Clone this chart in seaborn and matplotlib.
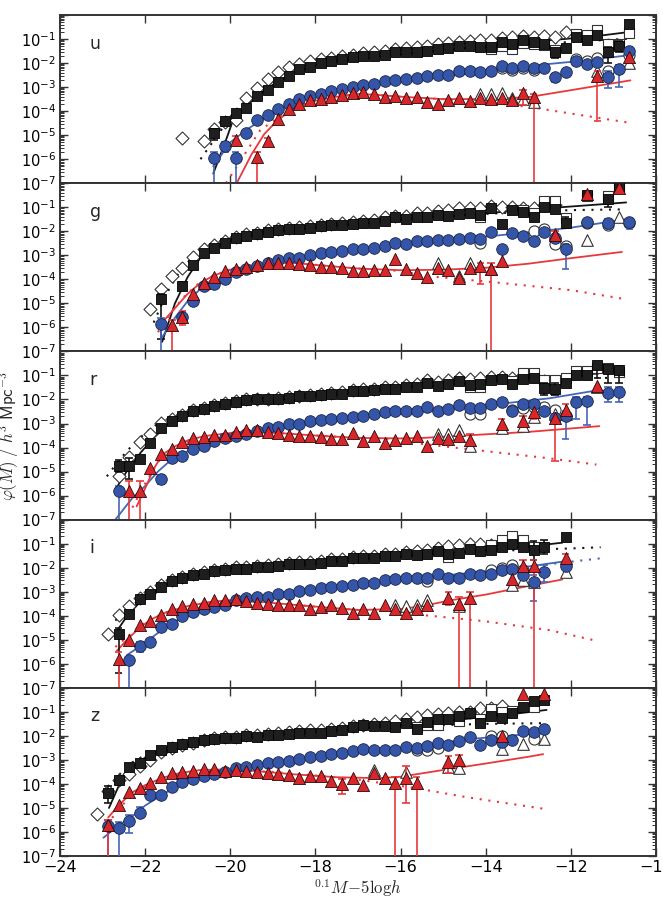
import numpy as np
import matplotlib
matplotlib.use("Agg")
import matplotlib.pyplot as plt
import seaborn as sns
from matplotlib.ticker import FixedLocator, LogLocator, NullFormatter

nan = np.nan
bands = ["u", "g", "r", "i", "z"]
step = 0.25  # bin width in magnitudes

# ---------------- u band (log10 phi), bins start at *_m0 ----------------
u_m0 = -20.375
u_sq = [-4.90, -4.42, -4.07, -3.86, -3.36, -3.10, -2.78, -2.54, -2.26, -2.15,
        -2.00, -1.92, -1.83, -1.74, -1.70, -1.70, -1.65, -1.55, -1.55, -1.52,
        -1.48, -1.41, -1.38, -1.30, -1.30, -1.34, -1.34, -1.13, -1.20, -1.06,
        -1.13, -1.20, -1.55, -1.38, -0.92, -1.02, -0.85, -1.52, -1.27, -0.36]
u_ci = [-5.96, -5.47, -5.96, -4.91, -4.38, -4.17, -3.90, -3.72, -3.48, -3.37,
        -3.27, -3.15, -3.07, -2.99, -2.90, -2.87, -2.76, -2.69, -2.65, -2.62,
        -2.53, -2.49, -2.49, -2.35, -2.32, -2.38, -2.32, -2.14, -2.21, -2.14,
        -2.21, -2.21, -2.59, -2.39, -1.93, -2.04, -1.96, -2.56, -2.24, -1.48]
u_tr = [nan, nan, -5.19, nan, -5.89, -5.26, -4.31, -3.93, -3.72, -3.55,
        -3.48, -3.40, -3.33, -3.24, -3.21, -3.27, -3.41, -3.38, -3.45, -3.41,
        -3.62, -3.69, -3.52, -3.45, -3.59, -3.45, -3.49, -3.45, -3.55, -3.24,
        -3.41, nan, nan, nan, nan, nan, -2.53, nan, nan, -1.75]
u_di_m0 = -21.125
u_di = [-5.12, nan, -5.26, -4.75, -4.45, -4.38, -3.45, -3.05, -2.65, -2.38,
        -2.17, -2.05, -1.92, -1.85, -1.80, -1.72, -1.65, -1.58, -1.55, -1.50,
        -1.42, -1.38, -1.34, -1.28, -1.22, -1.18, -1.12, -1.08, -1.05, -1.05,
        -0.95, -0.92, -0.88, -0.92, -0.88, -0.90, -0.72]
u_o_m0 = -14.125
u_osq = [nan, -1.40, -1.30, -1.41, -1.15, -1.20, -1.25, -1.45, nan, -0.78, -0.85, -0.64, -1.20, -1.20, -0.75]
u_oci = [nan, nan, -2.20, -2.28, -2.20, -2.30, nan, nan, nan, -1.82, -1.90, -1.80, -2.35, nan, -1.65]
u_otr = [-3.30, -3.30, -3.25, -3.45, -3.50, -3.62, nan, nan, nan, nan, nan, -2.35, nan, nan, -2.00]
u_err_sq = [(-20.375, -5.2, -4.75), (-12.375, -1.8, -1.45), (-11.125, -2.0, -1.35), (-10.875, -1.55, -1.1)]
u_err_ci = [(-20.375, -9, -5.7), (-20.125, -5.7, -5.3), (-19.875, -9, -5.7), (-12.375, -2.8, -2.45),
            (-11.125, -3.05, -2.35), (-10.875, -3.0, -2.1), (-10.625, -1.8, -1.35)]
u_err_tr = [(-19.875, -5.35, -5.05), (-19.375, -9, -5.7), (-19.125, -5.4, -5.1), (-13.125, -3.75, -3.1),
            (-12.875, -9, -3.3), (-11.375, -4.4, -2.35)]
u_blk_m = [-20.4, -20.1, -19.9, -19.6, -19.3, -19.0, -18.6, -18.2, -17.8, -17.2, -16.5, -15.5, -14.5, -13.5, -12.5, -11.5, -10.6]
u_blk_y = [-6.6, -5.2, -4.2, -3.75, -3.3, -2.9, -2.5, -2.2, -2.0, -1.85, -1.72, -1.55, -1.38, -1.22, -1.05, -0.9, -0.7]
u_blkd_m = [-20.7, -20.3, -19.9, -19.5, -19.1, -18.6, -18.0, -17.0, -16.0, -15.0, -14.0, -13.0, -12.0, -11.0, -10.6]
u_blkd_y = [-6.0, -5.0, -4.0, -3.35, -2.85, -2.45, -2.12, -1.85, -1.65, -1.48, -1.35, -1.22, -1.12, -1.02, -0.98]
u_blu_m = [-20.4, -20.0, -19.6, -19.2, -18.8, -18.4, -18.0, -17.5, -17.0, -16.0, -15.0, -14.0, -13.0, -12.0, -10.6]
u_blu_y = [-6.3, -5.3, -4.75, -4.3, -3.9, -3.55, -3.35, -3.15, -3.0, -2.75, -2.55, -2.35, -2.12, -1.95, -1.67]
u_red_m = [-19.85, -19.5, -19.2, -18.9, -18.6, -18.3, -18.0, -17.5, -17.0, -16.5, -16.0, -15.0, -14.0, -13.0, -10.6]
u_red_y = [-7.0, -5.8, -4.95, -4.4, -4.0, -3.75, -3.57, -3.4, -3.28, -3.33, -3.4, -3.5, -3.5, -3.42, -2.72]
u_redd_m = [-20.1, -19.7, -19.3, -18.9, -18.5, -18.0, -17.0, -16.0, -15.0, -14.0, -13.0, -12.0, -10.6]
u_redd_y = [-7.0, -5.9, -4.8, -4.3, -3.85, -3.55, -3.28, -3.4, -3.5, -3.62, -3.82, -4.1, -4.49]

# ---------------- g band ----------------
g_m0 = -21.625
g_sq = [-4.83, nan, -4.28, -3.42, -2.92, -2.68, -2.47, -2.30, -2.20, -2.12,
        -2.01, -1.95, -1.92, -1.89, -1.85, -1.80, -1.75, -1.75, -1.68, -1.65,
        -1.65, -1.57, -1.39, -1.50, -1.39, -1.39, -1.33, -1.36, -1.29, -1.26,
        -1.33, -1.05, -1.71, -1.10, -1.19, -1.40, -1.01, -1.08, -1.64, nan,
        -0.50, nan, -0.67, -0.14, nan]
g_ci = [-5.87, nan, -5.57, -4.90, -4.28, -4.18, -3.97, -3.70, -3.58, -3.45,
        -3.30, -3.20, -3.12, -3.10, -3.00, -2.92, -2.85, -2.82, -2.72, -2.72,
        -2.68, -2.63, -2.50, -2.54, -2.42, -2.42, -2.36, -2.36, -2.31, -2.28,
        -2.31, -2.03, -2.72, -2.08, -2.20, -2.40, -2.03, -2.26, -2.75, nan,
        -1.61, nan, -1.67, nan, -1.61]
g_tr = [nan, -5.92, -5.57, -4.62, -4.17, -3.89, -3.65, -3.55, -3.47, -3.42,
        -3.30, -3.30, -3.30, -3.38, -3.42, -3.47, -3.47, -3.52, -3.65, -3.65,
        -3.61, -3.61, -3.17, -3.58, -3.75, -3.89, -3.51, -3.61, -3.93, -3.51,
        -3.45, -3.58, -3.24, nan, nan, nan, nan, -2.17, nan, nan,
        -0.46, nan, nan, -0.18, nan]
g_di_m0 = -21.875
g_di = [-5.22, -4.42, -3.86, -3.51, -3.05, -2.75, -2.58, -2.40, -2.22, -2.12,
        -2.06, -1.96, -1.90, -1.86, -1.82, -1.78, -1.73, -1.68, -1.65, -1.60,
        -1.56, -1.52, -1.42, -1.35, -1.35, -1.25, -1.22, -1.15, -1.12, -1.05,
        -1.02, -1.02, -0.95, -0.98, -1.00, -1.05, -1.05, -0.92, -0.92]
g_o_m0 = -15.125
g_osq = [nan, nan, nan, nan, -1.39, nan, nan, nan, -1.10, -1.22, -0.74, -0.74, -1.43, nan, -0.55, nan, -0.55, -0.20, nan]
g_oci = [nan, nan, nan, nan, -2.50, nan, nan, nan, nan, -2.00, -1.92, -2.55, -2.62, nan, -1.65, nan, -1.72, nan, -1.65]
g_otr = [-3.30, nan, -3.85, -3.30, nan, -3.55, nan, nan, nan, nan, nan, -2.10, nan, nan, -2.36, nan, nan, -1.39, nan]
g_err_sq = [(-21.625, -6.5, -4.6), (-21.125, -4.45, -4.1), (-12.125, -1.85, -1.4), (-11.125, -1.0, -0.6)]
g_err_ci = [(-21.625, -9, -5.6), (-21.125, -5.8, -5.35), (-12.125, -3.55, -2.55), (-11.125, -1.9, -1.5),
            (-10.625, -1.9, -1.45)]
g_err_tr = [(-21.375, -9, -5.7), (-21.125, -5.9, -5.3), (-14.125, -4.2, -3.3), (-13.875, -9, -3.3),
            (-12.375, -2.4, -2.0)]
g_blk_m = [-21.6, -21.3, -21.0, -20.7, -20.4, -20.0, -19.5, -19.0, -18.0, -17.0, -16.0, -15.0, -14.0, -13.0, -12.0, -10.7]
g_blk_y = [-6.6, -5.0, -3.9, -3.1, -2.7, -2.38, -2.15, -2.02, -1.85, -1.68, -1.52, -1.38, -1.25, -1.1, -0.97, -0.8]
g_blkd_m = [-21.8, -21.5, -21.2, -20.9, -20.6, -20.2, -19.5, -19.0, -18.0, -17.0, -16.0, -15.0, -14.0, -13.0, -12.0, -10.8]
g_blkd_y = [-5.8, -4.6, -3.7, -3.1, -2.75, -2.45, -2.17, -2.04, -1.86, -1.7, -1.55, -1.4, -1.28, -1.18, -1.12, -1.09]
g_blu_m = [-21.6, -21.3, -21.0, -20.7, -20.4, -20.0, -19.5, -19.0, -18.0, -17.0, -16.0, -15.0, -14.0, -13.0, -12.0, -10.7]
g_blu_y = [-6.4, -5.6, -4.9, -4.4, -4.1, -3.8, -3.5, -3.28, -3.02, -2.78, -2.58, -2.4, -2.22, -2.05, -1.85, -1.5]
g_red_m = [-21.55, -21.3, -21.0, -20.7, -20.4, -20.0, -19.5, -19.0, -18.5, -18.0, -17.0, -16.0, -15.0, -14.0, -13.0, -12.0, -10.8]
g_red_y = [-5.7, -5.2, -4.6, -4.15, -3.85, -3.6, -3.42, -3.32, -3.32, -3.4, -3.55, -3.62, -3.6, -3.52, -3.35, -3.12, -2.86]
g_redd_m = [-21.7, -21.4, -21.1, -20.8, -20.5, -20.0, -19.0, -18.0, -17.0, -16.0, -15.4, -13.7, -12.0, -10.8]
g_redd_y = [-6.2, -5.4, -4.75, -4.25, -3.9, -3.6, -3.32, -3.4, -3.55, -3.65, -3.86, -4.14, -4.45, -4.8]

# ---------------- r band ----------------
r_m0 = -22.625
r_sq = [-4.75, -4.78, -4.47, -3.83, -3.18, -2.90, -2.70, -2.49, -2.39, -2.28,
        -2.18, -2.10, -2.03, -2.00, -1.99, -1.98, -1.95, -1.86, -1.84, -1.82,
        -1.78, -1.76, -1.63, -1.65, -1.60, -1.58, -1.55, -1.47, -1.47, -1.30,
        -1.45, -1.35, -1.24, -1.38, -1.35, -1.20, -1.14, -1.35, -1.14, -1.10,
        -1.51, -1.55, -1.30, -1.00, -1.00, -0.58, -0.72, -0.78]
r_ci = [-5.82, nan, nan, nan, -5.30, -4.43, -4.36, -4.08, -3.92, -3.74,
        -3.60, -3.50, -3.42, -3.32, -3.18, -3.14, -3.04, -3.00, -2.90, -2.86,
        -2.83, -2.76, -2.72, -2.70, -2.62, -2.53, -2.49, -2.47, -2.47, -2.32,
        -2.47, -2.40, -2.21, -2.35, -2.35, -2.18, -2.11, -2.49, -2.17, -2.17,
        -2.49, -2.79, -2.70, -2.11, -2.07, nan, -1.72, -1.70]
r_tr = [nan, -5.82, -5.82, -4.85, -4.25, -4.05, -3.78, -3.60, -3.55, -3.46,
        -3.46, -3.36, -3.28, -3.28, -3.36, -3.39, -3.46, -3.50, -3.50, -3.55,
        -3.64, -3.64, -3.39, -3.74, -3.53, -3.80, -3.67, -3.60, -3.50, -3.92,
        -3.60, -3.64, -3.50, -3.67, nan, nan, -3.00, nan, -2.90, -2.53,
        nan, -2.76, -2.42, nan, nan, -1.42, nan, nan]
r_di_m0 = -22.625
r_di = [-5.17, -4.39, -3.78, -3.45, -2.98, -2.80, -2.65, -2.45, -2.35, -2.25,
        -2.15, -2.06, -2.00, -1.97, -1.96, -1.94, -1.90, -1.84, -1.80, -1.77,
        -1.73, -1.70, -1.60, -1.58, -1.55, -1.50, -1.46, -1.40, -1.36, -1.20,
        -1.28, -1.18, -1.10, -1.15, -1.10, -1.05, -1.08, -1.10, -1.00, -1.02,
        -1.25]
r_o_m0 = -15.125
r_osq = [nan, nan, nan, -1.50, -1.50, nan, nan, -1.25, -0.90, -0.90, -1.20, -1.20, -1.10, -0.80, -0.82, -0.70, -0.68, -0.85]
r_oci = [nan, nan, nan, -2.60, -2.60, nan, nan, -2.42, -2.35, -2.30, -2.30, -2.42, nan, nan, nan, nan, nan, nan]
r_otr = [-3.45, -3.45, -3.25, -3.95, nan, nan, -3.20, nan, -3.10, -2.75, nan, -2.60, -2.60, nan, nan, -1.50, nan, nan]
r_err_sq = [(-22.625, -5.0, -4.5), (-22.375, -5.3, -4.45), (-12.625, -1.8, -1.3), (-12.375, -1.8, -1.3),
            (-11.375, -1.1, -0.45), (-11.125, -1.3, -0.6), (-10.875, -1.3, -0.6)]
r_err_ci = [(-22.625, -9, -5.6), (-21.625, -5.5, -5.15), (-12.125, -3.65, -2.5), (-11.875, -2.8, -1.9),
            (-11.625, -3.05, -1.9), (-11.125, -2.1, -1.5), (-10.875, -2.1, -1.5)]
r_err_tr = [(-22.375, -9, -5.4), (-22.125, -9, -5.4), (-14.375, -3.85, -3.45), (-13.625, -3.2, -2.8),
            (-13.125, -3.1, -2.7), (-12.875, -2.8, -2.35), (-12.375, -4.55, -2.6), (-12.125, -2.7, -2.2)]
r_blk_m = [-22.7, -22.4, -22.1, -21.8, -21.5, -21.2, -20.8, -20.4, -20.0, -19.5, -19.0, -18.0, -17.0, -16.0, -15.0, -14.0, -13.0, -12.0, -11.35]
r_blk_y = [-5.75, -4.9, -4.2, -3.6, -3.1, -2.75, -2.48, -2.3, -2.15, -2.05, -1.98, -1.85, -1.7, -1.55, -1.4, -1.27, -1.13, -1.0, -0.92]
r_blkd_m = [-22.9, -22.6, -22.3, -22.0, -21.7, -21.3, -20.8, -20.0, -19.0, -18.0, -17.0, -16.0, -15.0, -14.0, -13.0, -12.0, -11.0]
r_blkd_y = [-5.2, -4.5, -3.9, -3.4, -3.0, -2.7, -2.45, -2.15, -1.99, -1.86, -1.72, -1.58, -1.44, -1.32, -1.2, -1.12, -1.1]
r_blu_m = [-22.7, -22.3, -22.0, -21.7, -21.35, -21.0, -20.6, -20.2, -19.8, -19.2, -18.5, -17.5, -16.5, -15.5, -14.5, -13.5, -12.5, -11.35]
r_blu_y = [-7.0, -6.1, -5.6, -5.0, -4.45, -4.15, -3.92, -3.72, -3.55, -3.35, -3.12, -2.88, -2.68, -2.5, -2.33, -2.15, -1.95, -1.61]
r_red_m = [-22.2, -22.0, -21.8, -21.6, -21.3, -21.0, -20.6, -20.0, -19.5, -19.0, -18.0, -17.0, -16.0, -15.47, -14.0, -13.0, -11.33]
r_red_y = [-6.45, -5.7, -4.9, -4.3, -3.95, -3.7, -3.52, -3.4, -3.33, -3.38, -3.5, -3.6, -3.62, -3.6, -3.45, -3.35, -3.11]
r_redd_m = [-22.3, -22.0, -21.7, -21.4, -21.0, -20.5, -20.0, -19.0, -18.0, -17.0, -16.0, -15.5, -14.0, -12.5, -11.4]
r_redd_y = [-6.5, -5.5, -4.6, -4.1, -3.75, -3.5, -3.42, -3.38, -3.5, -3.6, -3.65, -3.85, -4.15, -4.45, -4.71]

# ---------------- i band ----------------
i_m0 = -22.625
i_sq = [-4.75, -3.92, -3.32, -3.11, -2.80, -2.55, -2.42, -2.30, -2.25, -2.14,
        -2.10, -2.04, -2.07, -1.97, -1.97, -1.93, -1.86, -1.86, -1.86, -1.79,
        -1.72, -1.72, -1.61, -1.58, -1.61, -1.51, -1.51, -1.45, -1.47, -1.42,
        -1.30, -1.42, -1.38, -1.24, -1.30, -1.28, -1.14, -1.00, -1.14, -1.26,
        -1.14, nan, -0.72]
i_ci = [nan, -5.86, -5.26, -5.08, -4.47, -4.33, -4.01, -3.83, -3.74, -3.64,
        -3.55, -3.36, -3.28, -3.22, -3.22, -3.11, -3.08, -2.97, -2.91, -2.83,
        -2.80, -2.76, -2.70, -2.62, -2.62, -2.53, -2.49, -2.45, -2.45, -2.42,
        -2.28, -2.45, -2.42, -2.25, -2.31, -2.25, -2.11, -2.07, -2.31, -2.58,
        -2.17, nan, -1.93]
i_tr = [-5.80, -5.03, -4.39, -4.20, -3.95, -3.70, -3.60, -3.53, -3.46, -3.36,
        -3.36, -3.32, -3.40, -3.46, -3.50, -3.55, -3.55, -3.55, -3.74, -3.64,
        -3.55, -3.69, -3.87, -3.74, -3.87, -3.55, -3.74, -3.87, -3.74, -3.55,
        nan, -3.28, -3.50, -3.25, nan, nan, nan, -2.49, -1.93, -1.93,
        nan, nan, -1.61]
i_di_m0 = -22.875
i_di = [-4.78, -3.95, -3.60, -3.25, -3.02, -2.74, -2.52, -2.40, -2.27, -2.20,
        -2.10, -2.04, -1.99, -1.98, -1.92, -1.90, -1.85, -1.80, -1.78, -1.76,
        -1.71, -1.65, -1.62, -1.56, -1.52, -1.50, -1.45, -1.42, -1.35, -1.30,
        -1.25, -1.20, -1.10, -1.05, -1.02, -1.00, -1.05, -0.98, -0.85, -0.92]
i_o_m0 = -16.375
i_osq = [nan, nan, nan, nan, nan, nan, -1.55, nan, nan, nan, -1.05, -0.85, -0.70, -0.85, -1.12, nan, nan, nan]
i_oci = [nan, nan, nan, nan, -2.55, nan, nan, nan, nan, nan, -2.10, -2.00, -1.90, -2.10, nan, nan, nan, nan]
i_otr = [nan, -3.55, -3.60, -3.55, -3.35, nan, nan, -3.60, nan, nan, nan, nan, -2.70, -2.50, -2.60, nan, nan, -2.20]
i_err_sq = [(-22.625, -6.4, -4.5), (-12.875, -1.7, -0.9), (-12.625, -1.45, -0.85)]
i_err_ci = [(-22.375, -9, -5.7), (-22.125, -5.5, -5.1), (-12.875, -3.4, -2.3), (-12.625, -2.6, -1.9)]
i_err_tr = [(-22.625, -9, -5.5), (-14.875, -3.55, -3.0), (-14.625, -9, -3.2), (-14.375, -9, -3.0),
            (-13.125, -2.3, -1.7), (-12.875, -9, -1.7), (-12.125, -1.85, -1.45)]
i_blk_m = [-22.65, -22.4, -22.1, -21.8, -21.5, -21.0, -20.5, -20.0, -19.0, -18.0, -17.0, -16.0, -15.0, -14.0, -13.0, -12.2]
i_blk_y = [-4.6, -3.95, -3.4, -3.0, -2.7, -2.4, -2.2, -2.07, -1.95, -1.83, -1.68, -1.53, -1.4, -1.28, -1.12, -0.96]
i_blkd_m = [-22.7, -22.4, -22.1, -21.8, -21.4, -21.0, -20.5, -20.0, -19.0, -18.0, -17.0, -16.0, -15.0, -14.0, -13.0, -12.0, -11.3]
i_blkd_y = [-4.2, -3.7, -3.3, -2.95, -2.65, -2.42, -2.22, -2.08, -1.96, -1.84, -1.7, -1.56, -1.43, -1.32, -1.25, -1.2, -1.15]
i_blu_m = [-22.43, -22.1, -21.8, -21.5, -21.2, -20.8, -20.4, -20.0, -19.5, -19.0, -18.0, -17.0, -16.0, -15.0, -14.0, -13.0, -12.2]
i_blu_y = [-5.64, -5.25, -4.85, -4.45, -4.15, -3.9, -3.7, -3.5, -3.33, -3.18, -2.93, -2.7, -2.5, -2.33, -2.15, -1.95, -1.75]
i_blud_m = [-12.8, -12.2, -11.3]
i_blud_y = [-1.92, -1.79, -1.61]
i_red_m = [-22.67, -22.4, -22.1, -21.8, -21.5, -21.0, -20.5, -20.0, -19.5, -19.0, -18.0, -17.0, -16.0, -15.5, -14.8, -14.0, -13.3, -12.2]
i_red_y = [-5.47, -4.95, -4.45, -4.1, -3.85, -3.6, -3.43, -3.35, -3.38, -3.47, -3.62, -3.76, -3.72, -3.6, -3.35, -3.12, -2.87, -2.49]
i_redd_m = [-22.7, -22.4, -22.1, -21.8, -21.4, -21.0, -20.0, -19.0, -18.0, -17.0, -16.2, -15.6, -14.06, -12.5, -11.43]
i_redd_y = [-5.3, -4.85, -4.4, -4.08, -3.8, -3.6, -3.36, -3.47, -3.62, -3.76, -3.8, -3.95, -4.22, -4.6, -5.03]

# ---------------- z band ----------------
z_m0 = -22.875
z_sq = [-4.36, -3.83, -3.28, -3.11, -2.79, -2.60, -2.45, -2.35, -2.25, -2.17,
        -2.11, -2.10, -2.10, -2.00, -2.03, -1.97, -1.97, -1.93, -1.90, -1.86,
        -1.86, -1.79, -1.76, -1.65, -1.55, -1.58, -1.58, -1.61, -1.45, -1.70,
        -1.42, -1.31, -1.31, -1.17, -1.03, -1.45, -1.17, -1.27, -1.03, -0.78,
        -0.54, -0.50]
z_ci = [-5.75, -5.82, -5.54, -5.20, -4.48, -4.48, -4.11, -3.92, -3.80, -3.67,
        -3.60, -3.50, -3.32, -3.28, -3.22, -3.14, -3.08, -3.04, -2.95, -2.86,
        -2.83, -2.76, -2.72, -2.62, -2.56, -2.58, -2.58, -2.58, -2.45, -2.49,
        -2.42, -2.28, -2.40, -2.21, -2.03, -2.40, -2.17, -2.25, -2.17, -1.79,
        -1.83, -1.72]
z_tr = [-5.72, -4.89, -4.33, -4.15, -3.95, -3.70, -3.56, -3.50, -3.46, -3.36,
        -3.36, -3.46, -3.42, -3.46, -3.50, -3.55, -3.60, -3.64, -3.74, -3.69,
        -3.69, -3.87, -4.01, -3.74, -4.06, -3.56, -3.74, -3.97, -3.74, -3.97,
        nan, nan, -3.08, -3.00, nan, nan, nan, -2.00, nan, -0.27,
        nan, -0.27]
z_di_m0 = -23.125
z_di = [-5.26, -4.30, -3.85, -3.60, -3.25, -3.00, -2.68, -2.50, -2.37, -2.28,
        -2.18, -2.10, -2.06, -2.03, -1.97, -1.95, -1.91, -1.88, -1.85, -1.81,
        -1.77, -1.75, -1.70, -1.66, -1.58, -1.53, -1.50, -1.45, -1.38, -1.30,
        -1.20, -1.15, -1.10, -1.05, -1.00, -1.00, -0.85, -0.85, -0.75]
z_o_m0 = -16.875
z_osq = [nan, nan, nan, nan, nan, -1.62, -1.55, -1.55, nan, -1.40, nan, -1.30, -0.90, -1.00, -0.95, nan, -0.78, nan]
z_oci = [nan, nan, nan, nan, nan, -2.60, -2.58, -2.50, nan, nan, nan, nan, -2.00, -2.00, nan, nan, -2.15, nan]
z_otr = [nan, -3.40, nan, nan, -3.50, nan, nan, nan, -3.30, -3.35, nan, nan, nan, -2.55, nan, -2.35, nan, -2.15]
z_err_sq = [(-22.875, -4.8, -4.1), (-14.125, -1.65, -1.3)]
z_err_ci = [(-22.875, -9, -5.5), (-22.625, -9, -5.6), (-22.375, -6.03, -5.3), (-22.125, -5.35, -4.95),
            (-14.125, -2.6, -2.2), (-13.625, -2.45, -2.1), (-12.625, -1.9, -1.55)]
z_err_tr = [(-22.875, -9, -5.5), (-17.375, -4.4, -3.8), (-16.125, -9, -3.7), (-15.875, -4.8, -3.25),
            (-15.625, -9, -3.7), (-14.875, -3.55, -2.85), (-14.625, -3.25, -2.8)]
z_blk_m = [-22.85, -22.6, -22.3, -22.0, -21.6, -21.2, -20.8, -20.3, -19.5, -18.5, -17.5, -16.5, -15.5, -14.5, -13.5, -12.57]
z_blk_y = [-5.0, -4.0, -3.3, -2.9, -2.6, -2.38, -2.22, -2.12, -2.02, -1.9, -1.77, -1.62, -1.47, -1.3, -1.12, -0.92]
z_blkd_m = [-22.85, -22.6, -22.3, -22.0, -21.6, -21.0, -20.0, -19.0, -18.0, -17.0, -16.0, -15.0, -14.0, -13.0, -12.65]
z_blkd_y = [-4.2, -3.6, -3.1, -2.8, -2.55, -2.32, -2.12, -2.0, -1.88, -1.75, -1.62, -1.55, -1.5, -1.48, -1.47]
z_blu_m = [-22.98, -22.6, -22.3, -22.0, -21.6, -21.2, -20.8, -20.3, -19.5, -18.5, -17.5, -16.5, -15.5, -14.5, -13.5, -12.57]
z_blu_y = [-6.24, -5.7, -5.35, -4.9, -4.45, -4.05, -3.82, -3.6, -3.3, -3.0, -2.77, -2.6, -2.45, -2.15, -2.0, -1.86]
z_red_m = [-22.87, -22.6, -22.3, -22.0, -21.6, -21.2, -20.7, -20.2, -19.5, -18.5, -17.5, -16.5, -16.0, -15.0, -14.0, -13.0, -12.65]
z_red_y = [-5.4, -4.85, -4.35, -4.05, -3.75, -3.55, -3.42, -3.4, -3.45, -3.6, -3.72, -3.76, -3.7, -3.42, -3.15, -2.87, -2.76]
z_redd_m = [-22.9, -22.6, -22.3, -22.0, -21.6, -21.0, -20.0, -19.0, -18.0, -17.0, -15.7, -14.45, -12.65]
z_redd_y = [-5.7, -5.0, -4.45, -4.1, -3.78, -3.52, -3.42, -3.5, -3.65, -3.82, -4.16, -4.55, -5.03]

# collect the named arrays per band for the drawing loop
g_ = globals()
panels = {b: {k: g_[f"{b}_{k}"] for k in
              ["m0", "sq", "ci", "tr", "di_m0", "di", "o_m0", "osq", "oci", "otr",
               "err_sq", "err_ci", "err_tr", "blk_m", "blk_y", "blkd_m", "blkd_y",
               "blu_m", "blu_y", "red_m", "red_y", "redd_m", "redd_y"]}
          for b in bands}
panels["i"]["blud_m"] = i_blud_m
panels["i"]["blud_y"] = i_blud_y

BLACK = "#141414"
BLUE = "#3556a8"
RED = "#d8262b"
LBLUE = "#4566b8"
LRED = "#e8383c"

sns.set_style("ticks")
plt.rcParams.update({
    "font.family": ["DejaVu Sans"],
    "mathtext.fontset": "cm",
    "axes.edgecolor": "#333333",
    "axes.linewidth": 1.4,
    "xtick.color": "#333333",
    "ytick.color": "#333333",
    "xtick.labelcolor": "black",
    "ytick.labelcolor": "black",
})

fig, axes = plt.subplots(5, 1, figsize=(6.63, 8.99), dpi=100, sharex=True)
fig.subplots_adjust(left=0.0905, right=0.9894, top=0.9833, bottom=0.0478, hspace=0)


def bin_x(m0, vals):
    return m0 + step * np.arange(len(vals))


def scat(ax, x, logy, **kw):
    y = np.power(10.0, np.asarray(logy, dtype=float))
    ok = np.isfinite(y)
    sns.scatterplot(x=np.asarray(x)[ok], y=y[ok], ax=ax, legend=False, **kw)


def line(ax, m, logy, color, dotted=False):
    sns.lineplot(x=m, y=np.power(10.0, np.asarray(logy)), ax=ax, color=color,
                 lw=1.3 if not dotted else 1.5, sort=False, estimator=None,
                 linestyle=(0, (1, 3.2)) if dotted else "-", zorder=1.5)


def errs(ax, items, color):
    for m, lo, hi in items:
        ax.vlines(m, 10.0 ** lo, 10.0 ** hi, color=color, lw=1.2, zorder=2.6)
        for v in (lo, hi):
            if v > -8:
                ax.hlines(10.0 ** v, m - 0.09, m + 0.09, color=color, lw=1.2, zorder=2.6)


for ax, b in zip(axes, bands):
    p = panels[b]
    ax.set_yscale("log")

    # model curves
    line(ax, p["blk_m"], p["blk_y"], BLACK)
    line(ax, p["blkd_m"], p["blkd_y"], BLACK, dotted=True)
    line(ax, p["blu_m"], p["blu_y"], LBLUE)
    if "blud_m" in p:
        line(ax, p["blud_m"], p["blud_y"], LBLUE, dotted=True)
    line(ax, p["red_m"], p["red_y"], LRED)
    line(ax, p["redd_m"], p["redd_y"], LRED, dotted=True)

    # open symbols
    open_kw = dict(color="white", edgecolor="#333333", linewidth=0.8, zorder=2)
    scat(ax, bin_x(p["di_m0"], p["di"]), p["di"], marker="D", s=44, **open_kw)
    scat(ax, bin_x(p["o_m0"], p["osq"]), p["osq"], marker="s", s=58, **open_kw)
    scat(ax, bin_x(p["o_m0"], p["oci"]), p["oci"], marker="o", s=64, **open_kw)
    scat(ax, bin_x(p["o_m0"], p["otr"]), p["otr"], marker="^", s=70, **open_kw)

    # error bars
    errs(ax, p["err_sq"], BLACK)
    errs(ax, p["err_ci"], LBLUE)
    errs(ax, p["err_tr"], LRED)

    # filled symbols
    xb = bin_x(p["m0"], p["sq"])
    scat(ax, xb, p["sq"], marker="s", s=58, color="#1e1e1e", edgecolor="black", linewidth=0.6, zorder=3)
    scat(ax, xb, p["ci"], marker="o", s=70, color=BLUE, edgecolor="#1a2448", linewidth=0.6, zorder=3.1)
    scat(ax, xb, p["tr"], marker="^", s=76, color=RED, edgecolor="#2a0a0a", linewidth=0.6, zorder=3.2)

    ax.set_xlim(-24, -10)
    ax.set_ylim(1e-7, 1)
    ax.yaxis.set_major_locator(FixedLocator([10.0 ** k for k in range(-7, 1)]))
    ax.set_yticklabels([r"$\mathdefault{10^{%d}}$" % k for k in range(-7, 0)] + [""])
    ax.yaxis.set_minor_locator(LogLocator(base=10, subs=np.arange(2, 10), numticks=20))
    ax.yaxis.set_minor_formatter(NullFormatter())
    ax.set_xticks(np.arange(-24, -9, 2))
    ax.tick_params(which="both", direction="in", top=True, right=True)
    ax.tick_params(axis="x", labelsize=11.5, pad=3)
    ax.tick_params(axis="y", labelsize=10.5, pad=3)
    ax.tick_params(which="major", length=6, width=1.0)
    ax.tick_params(which="minor", length=3, width=0.7)
    ax.set_ylabel("")
    ax.text(0.05, 0.83, b, transform=ax.transAxes, fontsize=12.5, va="center", ha="left")

axes[-1].set_xticklabels(["\u2212%d" % abs(v) for v in np.arange(-24, -9, 2)])
fig.text(0.54, 0.0125, r"$^{0.1}M\!-\!5\mathrm{log}h$", fontsize=12, ha="center", va="center")
fig.text(0.013, 0.515, r"$\varphi(M)\ /\ h^3\ \mathsf{Mpc}^{-3}$", rotation=90,
         ha="center", va="center", fontsize=12)

fig.savefig("out.png", dpi=100)
